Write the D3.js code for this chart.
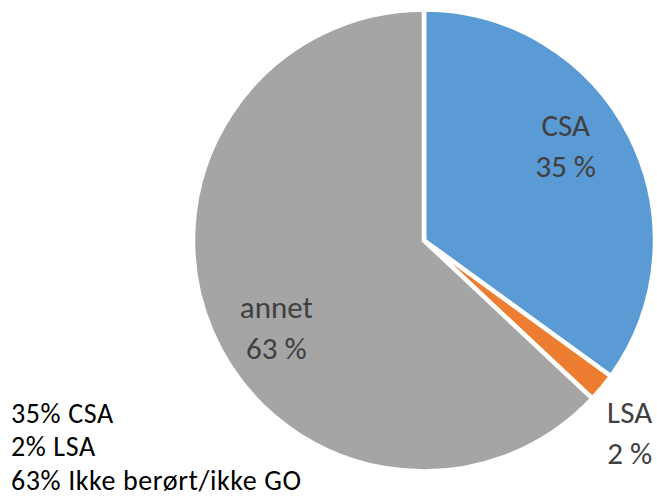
<!DOCTYPE html>
<html>
<head>
<meta charset="utf-8">
<script src="https://cdn.jsdelivr.net/npm/d3@7"></script>
<style>
  html, body { margin: 0; padding: 0; background: #fff; }
  svg { display: block; }
</style>
</head>
<body>
<svg id="chart" width="657" height="496"></svg>
<script>
// ---- data ----
const categories = ["CSA", "LSA", "annet"];
const values = [35, 2, 63];
const valueLabels = ["35 %", "2 %", "63 %"];
const colors = ["#5B9BD5", "#ED7D31", "#A5A5A5"];
const noteLines = ["35% CSA", "2% LSA", "63% Ikke berørt/ikke GO"];

// ---- layout ----
const W = 657, H = 496;
const cx = 424, cy = 240.5, R = 231;
// label placement in polar terms (degrees clockwise from top, radius px)
const labelPolar = [
  { a: 55, r: 173 },
  { a: 132.3, r: 278 },
  { a: 240.9, r: 169 }
];
const font = "Carlito, Calibri, Lato, 'Open Sans', sans-serif";

const svg = d3.select("#chart");
const g = svg.append("g").attr("transform", `translate(${cx},${cy})`);

const pie = d3.pie().sort(null).value(d => d.v);
const data = categories.map((c, i) => ({ c, v: values[i], i }));
const arcs = pie(data);
const arc = d3.arc().innerRadius(0).outerRadius(R);

g.selectAll("path.slice")
  .data(arcs)
  .join("path")
  .attr("class", "slice")
  .attr("d", arc)
  .attr("fill", d => colors[d.data.i])
  .attr("stroke", "#fff")
  .attr("stroke-width", 4.5)
  .attr("stroke-linejoin", "miter");

const labels = g.selectAll("g.lbl")
  .data(arcs)
  .join("g")
  .attr("class", "lbl")
  .attr("transform", d => {
    const p = labelPolar[d.data.i];
    const a = p.a * Math.PI / 180;
    return `translate(${p.r * Math.sin(a)},${-p.r * Math.cos(a)})`;
  });

labels.append("text")
  .attr("text-anchor", "middle")
  .attr("y", -5)
  .attr("font-family", font)
  .attr("font-size", 31)
  .attr("fill", "#404040")
  .text(d => d.data.c);

labels.append("text")
  .attr("text-anchor", "middle")
  .attr("y", 36)
  .attr("font-family", font)
  .attr("font-size", 31)
  .attr("fill", "#404040")
  .text(d => valueLabels[d.data.i]);

svg.append("g")
  .selectAll("text")
  .data(noteLines)
  .join("text")
  .attr("x", 11)
  .attr("y", (d, i) => 422.5 + i * 33.5)
  .attr("font-family", font)
  .attr("font-size", 28)
  .attr("letter-spacing", 0.6)
  .attr("fill", "#000")
  .text(d => d);
</script>
</body>
</html>
